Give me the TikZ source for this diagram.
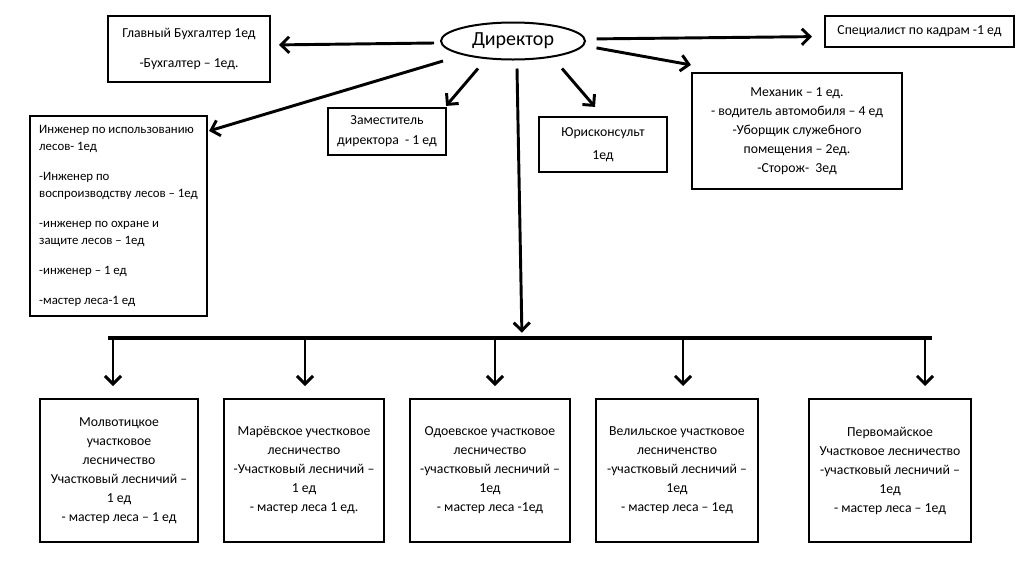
\documentclass[tikz,border=0pt]{standalone}
\usepackage{fontspec}
\setmainfont{Carlito}
\usepackage{tikz}
\usetikzlibrary{positioning, arrows.meta, shapes.geometric, calc}

\begin{document}
\begin{tikzpicture}[
    x=0.75pt, y=-0.75pt,
    boxsize/.style 2 args={minimum width=#1*0.75pt, minimum height=#2*0.75pt},
    unit/.style={draw, line width=1.6pt, align=center, inner sep=0pt,
        font=\fontsize{10.3}{14.25}\selectfont},
    boss/.style={ellipse, draw, line width=1.5pt, inner sep=0pt,
        font=\fontsize{15}{18}\selectfont},
    edge/.style={-{Straight Barb[length=6pt,width=12pt]}, line width=2.2pt},
    bar/.style={line width=3pt}
]
\useasboundingbox (0,0) rectangle (1024,565);

% Director
\node[boss, boxsize={144}{37}] (dir) at (513,41) {Директор};

% Top row of units
\node[unit, boxsize={162}{66}] (glavbukh) at (189,49)
    {Главный Бухгалтер 1ед\\[8.25pt] -Бухгалтер – 1ед.};
\node[unit, boxsize={189}{31}] (kadry) at (919.5,31.5)
    {Специалист по кадрам -1 ед};
\node[unit, boxsize={177}{200}, align=left, font=\fontsize{9.6}{12.75}\selectfont] (inzh) at (118.5,216)
    {Инженер по использованию\\ лесов- 1ед\\[9.75pt]
     -Инженер по\\ воспроизводству лесов – 1ед\\[9.75pt]
     -инженер по охране и\\ защите лесов – 1ед\\[9.75pt]
     -инженер – 1 ед\\[9.75pt]
     -мастер леса-1 ед};
\node[unit, boxsize={118}{47}, font=\fontsize{10.3}{15}\selectfont] (zam) at (387,131.5)
    {Заместитель\\ директора\ \ - 1 ед};
\node[unit, boxsize={128}{55}, font=\fontsize{10.3}{17}\selectfont] (yurist) at (603,144.5)
    {Юрисконсульт\\ 1ед};
\node[unit, boxsize={210}{116}] (mekh) at (797,131)
    {Механик – 1 ед.\\ - водитель автомобиля – 4 ед\\ -Уборщик служебного\\
     помещения – 2ед.\\ -Сторож-\ \ 3ед};

% Forestry districts
\node[unit, boxsize={158}{143}] (les1) at (119,470.5)
    {Молвотицкое\\ участковое\\ лесничество\\ Участковый лесничий –\\ 1 ед\\ - мастер леса – 1 ед};
\node[unit, boxsize={160}{143}] (les2) at (304,470.5)
    {Марёвское учестковое\\ лесничество\\ -Участковый лесничий –\\ 1 ед\\ - мастер леса 1 ед.};
\node[unit, boxsize={160}{143}] (les3) at (490,470.5)
    {Одоевское участковое\\ лесничество\\ -участковый лесничий –\\ 1ед\\ - мастер леса -1ед};
\node[unit, boxsize={162}{143}] (les4) at (677,470.5)
    {Велильское участковое\\ лесниченство\\ -участковый лесничий –\\ 1ед\\ - мастер леса – 1ед};
\node[unit, boxsize={162}{143}] (les5) at (890,470.5)
    {Первомайское\\ Участковое лесничество\\ -участковый лесничий –\\ 1ед\\ - мастер леса – 1ед};

% Distribution bar
\coordinate (barL) at (108,338);
\coordinate (barR) at (932,338);
\coordinate (barC) at (522,338);
\draw[bar] (barL) -- (barR);

% Edges
\draw[edge, shorten >=6pt] ([shift={(-6,2)}]dir.west) -- ([shift={(0,-4)}]glavbukh.east);
\draw[edge, shorten <=8pt, shorten >=9pt] ([shift={(0,-2)}]dir.east) -- ([shift={(0,5)}]kadry.west);
\draw[edge, shorten <=8pt] ([shift={(0,5)}]dir.east) -- ([shift={(0,-7)}]mekh.north west);
\draw[edge] ([shift={(3,20)}]dir.west) -- ([shift={(1,16)}]inzh.north east);
\draw[edge] ([shift={(-35,8)}]dir.south) -- ([shift={(-1,-1)}]zam.north east);
\draw[edge] ([shift={(49,8)}]dir.south) -- ([shift={(-8,-9)}]yurist.north);
\draw[edge, shorten >=4pt] ([shift={(4,8)}]dir.south) -- (barC);

\foreach \i/\x in {1/113, 2/305, 3/495, 4/683, 5/925} {
    \coordinate (top\i) at (\x,338);
    \coordinate (tip\i) at (\x,386);
    \draw[edge] (top\i) -- (tip\i);
}

\end{tikzpicture}
\end{document}
